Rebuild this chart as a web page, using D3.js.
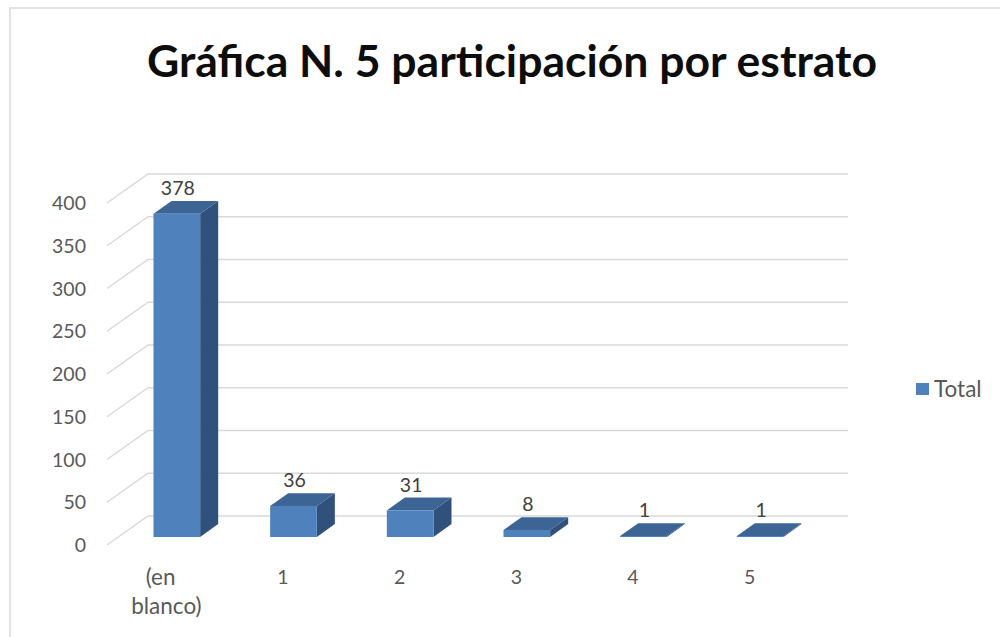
<!DOCTYPE html>
<html>
<head>
<meta charset="utf-8">
<script src="https://cdn.jsdelivr.net/npm/d3@7"></script>
<style>
  html, body { margin: 0; padding: 0; background: #fff; }
  svg { display: block; }
  text { font-family: Lato, "Open Sans", sans-serif; }
</style>
</head>
<body>
<svg id="chart" width="1000" height="637"></svg>
<script>
const title = "Gráfica N. 5 participación por estrato";
const categories = ["(en blanco)", "1", "2", "3", "4", "5"];
const values = [378, 36, 31, 8, 1, 1];
const ticks = [0, 50, 100, 150, 200, 250, 300, 350, 400];
const seriesName = "Total";

const svg = d3.select("#chart");
const W = 1000, H = 637;

// chart border
svg.append("rect").attr("x", 10).attr("y", 8).attr("width", W + 10).attr("height", H + 10)
  .attr("fill", "#fff").attr("stroke", "#d9d9d9").attr("stroke-width", 1.5);

// projection geometry
const originX = 107, originY = 545;   // front-left floor corner
const depthDX = 41, depthDY = -29;    // offset from front to back wall
const plotW = 700;

const x = d3.scaleBand().domain(categories).range([0, plotW]).padding(0);
const y = d3.scaleLinear().domain([0, 400]).range([0, 342]);

function proj(px, v, d) {
  return [originX + px + d * depthDX, originY - y(v) + d * depthDY];
}

const numSize = 19.5, wordSize = 22.5;

// gridlines: side wall diagonal + back wall horizontal
const grid = svg.append("g");
ticks.forEach(t => {
  const a = proj(0, t, 0), b = proj(0, t, 1), c = proj(plotW, t, 1);
  grid.append("path")
    .attr("d", `M${a[0]},${a[1]}L${b[0]},${b[1]}L${c[0]},${c[1]}`)
    .attr("fill", "none").attr("stroke", "#d9d9d9").attr("stroke-width", 1.5);
});

// y tick labels
svg.append("g").selectAll("text").data(ticks).join("text")
  .attr("x", 86)
  .attr("y", d => proj(0, d, 0)[1] + 7)
  .attr("text-anchor", "end")
  .attr("font-size", numSize)
  .attr("fill", "#595959")
  .text(d => d);

// bars
const d0 = 0.28, d1 = 0.72;
const barFrac = 0.4;
const bars = svg.append("g");
categories.forEach((c, i) => {
  const v = values[i];
  const cx = x(c) + x.bandwidth() / 2;
  const bw = x.bandwidth() * barFrac;
  const xl = cx - bw / 2, xr = cx + bw / 2;
  const fbl = proj(xl, 0, d0), fbr = proj(xr, 0, d0), ftl = proj(xl, v, d0), ftr = proj(xr, v, d0);
  const bbr = proj(xr, 0, d1), btl = proj(xl, v, d1), btr = proj(xr, v, d1);
  // side face
  bars.append("path")
    .attr("d", `M${fbr}L${bbr}L${btr}L${ftr}Z`)
    .attr("fill", "#30517b");
  // top face
  bars.append("path")
    .attr("d", `M${ftl}L${ftr}L${btr}L${btl}Z`)
    .attr("fill", "#3c6494");
  // front face
  bars.append("path")
    .attr("d", `M${fbl}L${fbr}L${ftr}L${ftl}Z`)
    .attr("fill", "#4f81bd");
  // value label
  bars.append("text")
    .attr("x", ftl[0] + bw / 2 + 1)
    .attr("y", btl[1] - 6)
    .attr("text-anchor", "middle")
    .attr("font-size", numSize)
    .attr("fill", "#404040")
    .text(v);
});

// category labels
const catG = svg.append("g");
categories.forEach((c, i) => {
  const p = proj(x(c) + x.bandwidth() / 2, 0, 0);
  const words = c.split(" ");
  const t = catG.append("text")
    .attr("text-anchor", "middle")
    .attr("fill", "#595959");
  if (words.length > 1) {
    t.attr("font-size", wordSize);
    t.append("tspan").attr("x", p[0] + 1).attr("y", 585).text(words[0] + "\u00a0\u00a0");
    t.append("tspan").attr("x", p[0] + 1).attr("y", 614).text(words.slice(1).join(" "));
  } else {
    t.attr("font-size", numSize).attr("x", p[0] + 1).attr("y", 584).text(c);
  }
});

// legend
svg.append("rect").attr("x", 916).attr("y", 383).attr("width", 13).attr("height", 12).attr("fill", "#4f81bd");
svg.append("text").attr("x", 934).attr("y", 397).attr("font-size", wordSize).attr("fill", "#595959").text(seriesName);

// title
const tt = svg.append("text")
  .attr("x", 512).attr("y", 77)
  .attr("text-anchor", "middle")
  .attr("font-weight", "bold")
  .attr("font-size", 40)
  .attr("fill", "#0d0d0d")
  .text(title);
const len = tt.node().getComputedTextLength();
tt.attr("font-size", 40 * 730 / len);
</script>
</body>
</html>
